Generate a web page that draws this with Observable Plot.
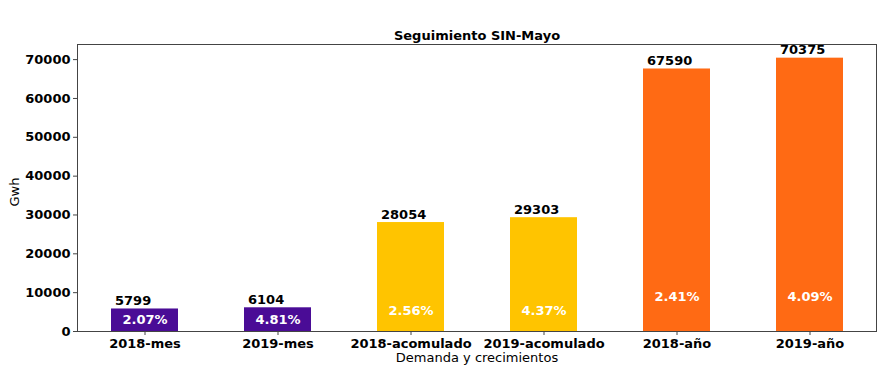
<!DOCTYPE html>
<html>
<head>
<meta charset="utf-8">
<script src="https://cdn.jsdelivr.net/npm/d3@7"></script>
<script src="https://cdn.jsdelivr.net/npm/@observablehq/plot@0.6"></script>
<style>
  html, body { margin: 0; padding: 0; background: #fff; }
  svg { display: block; }
</style>
</head>
<body>
<div id="chart"></div>
<script>
const categories = ["2018-mes", "2019-mes", "2018-acomulado", "2019-acomulado", "2018-año", "2019-año"];
const values = [5799, 6104, 28054, 29303, 67590, 70375];
const growth = ["2.07%", "4.81%", "2.56%", "4.37%", "2.41%", "4.09%"];
const groups = ["mes", "mes", "acomulado", "acomulado", "año", "año"];
const groupColors = {mes: "#4a0c96", acomulado: "#ffc400", "año": "#ff6a14"};
const pctLevel = {mes: 3000, acomulado: 5200, "año": 9000};
const yTicks = [0, 10000, 20000, 30000, 40000, 50000, 60000, 70000];

const data = categories.map((c, i) => ({cat: c, value: values[i], pct: growth[i], group: groups[i]}));

const font = "DejaVu Sans";
const chart = Plot.plot({
  width: 879,
  height: 372,
  marginLeft: 77,
  marginRight: 3,
  marginTop: 44,
  marginBottom: 41,
  style: {fontFamily: font, fontSize: "13px", color: "#000", background: "#fff"},
  x: {domain: categories, paddingInner: 0.5, paddingOuter: 0.25, axis: null},
  y: {domain: [0, 73894], axis: null},
  marks: [
    Plot.barY(data, {x: "cat", y: "value", fill: d => groupColors[d.group]}),
    Plot.frame({stroke: "#444", strokeWidth: 1}),
    Plot.axisY(yTicks, {tickSize: 4, tickPadding: 3, stroke: "#444", fontWeight: "bold", fontSize: 13, label: null, tickFormat: d => String(d)}),
    Plot.axisX(categories, {tickSize: 4, tickPadding: 3, stroke: "#444", fontWeight: "bold", fontSize: 13, label: null}),
    Plot.text(data, {x: "cat", y: "value", text: d => String(d.value), textAnchor: "start", lineAnchor: "bottom", dx: -30, dy: -4, fontWeight: "bold", fontSize: 13, fill: "#000"}),
    Plot.text(data, {x: "cat", y: d => pctLevel[d.group], text: "pct", textAnchor: "middle", lineAnchor: "middle", fontWeight: "bold", fontSize: 13, fill: "#fff"}),
    Plot.text(["Seguimiento SIN-Mayo"], {frameAnchor: "top", lineAnchor: "bottom", dy: -5, fontWeight: "bold", fontSize: 13, fill: "#000"}),
    Plot.text(["Gwh"], {frameAnchor: "left", textAnchor: "middle", lineAnchor: "middle", rotate: -90, dx: -63, dy: 4, fontSize: 13, fill: "#000"}),
    Plot.text(["Demanda y crecimientos"], {frameAnchor: "bottom", lineAnchor: "bottom", dy: 30, fontSize: 13, fill: "#000"})
  ]
});
document.getElementById("chart").appendChild(chart);
</script>
</body>
</html>
